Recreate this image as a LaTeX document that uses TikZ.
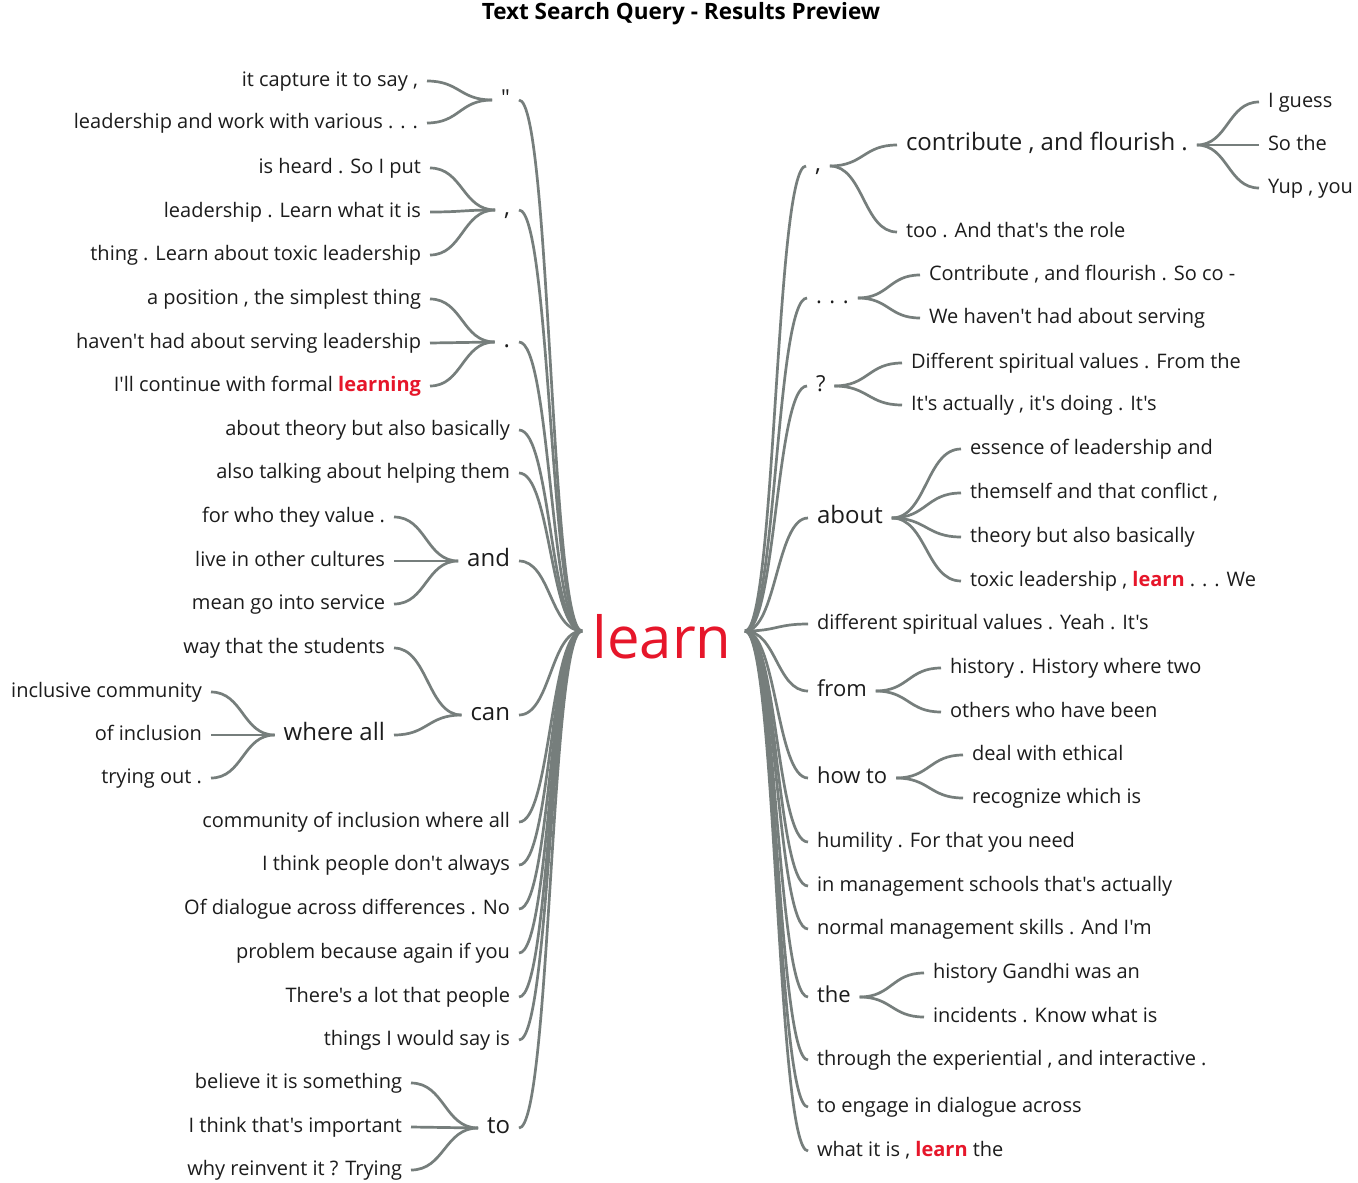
\documentclass[tikz,border=0pt]{standalone}
\usepackage{fontspec}
\newfontfamily\mf{Open Sans}
\usetikzlibrary{calc}
\definecolor{lkc}{RGB}{118,126,124}
\definecolor{lrc}{RGB}{230,22,42}
\definecolor{txc}{RGB}{28,28,28}
\tikzset{
 base/.style={inner sep=0pt, outer xsep=9pt, outer ysep=0pt, font=\mf\fontsize{20}{24}\selectfont, text=txc, text height=14.5pt, text depth=4pt},
 tl/.style={base, anchor=east},
 tr/.style={base, anchor=west},
 big/.style={font=\mf\fontsize{24}{28}\selectfont},
 mid/.style={font=\mf\fontsize{22}{26}\selectfont},
 link/.style={draw=lkc, line width=2.7pt},
}
\newcommand\hlr[1]{\textcolor{lrc}{\bfseries #1}}
\newcommand\lnk[2]{\draw[link] let \p1=(#1), \p2=(#2) in (\p1) .. controls ({(\x1+\x2)/2},\y1) and ({(\x1+\x2)/2},\y2) .. (\p2);}
\begin{document}
\begin{tikzpicture}[x=1pt,y=-1pt]
\fill[white] (0,0) rectangle (1358,1183);
\useasboundingbox (0,0) rectangle (1358,1183);
\node[font=\mf\bfseries\fontsize{22.5}{26}\selectfont, text=black] (title) at (681,14) {Text Search Query - Results Preview};
\node[font=\mf\fontsize{58}{66}\selectfont, text=lrc, anchor=base, inner sep=0pt] (learn) at (662,658) {learn};
\coordinate (LL) at (582,631);
\coordinate (LR) at (745,631);
% ---------- left ----------
\node[tl,mid] (q) at (519,100) {"};
\node[tl] (q1) at (427,81) {it capture it to say ,};
\node[tl] (q2) at (427,123) {leadership and work with various . . .};
\node[tl,big] (cm) at (519,210) {,};
\node[tl] (cm1) at (430,168) {is heard . So I put};
\node[tl] (cm2) at (430,212) {leadership . Learn what it is};
\node[tl] (cm3) at (430,255) {thing . Learn about toxic leadership};
\node[tl,big] (dt) at (519,342) {.};
\node[tl] (dt1) at (430,299) {a position , the simplest thing};
\node[tl] (dt2) at (430,343) {haven't had about serving leadership};
\node[tl] (dt3) at (430,386) {I'll continue with formal \hlr{learning}};
\node[tl] (l4) at (519,430) {about theory but also basically};
\node[tl] (l5) at (519,473) {also talking about helping them};
\node[tl,big] (and) at (519,561) {and};
\node[tl] (and1) at (394,517) {for who they value .};
\node[tl] (and2) at (394,561) {live in other cultures};
\node[tl] (and3) at (394,604) {mean go into service};
\node[tl,big] (can) at (519,715) {can};
\node[tl] (can1) at (394,648) {way that the students};
\node[tl,big] (wall) at (394,735) {where all};
\node[tl] (wa1) at (211,692) {inclusive community};
\node[tl] (wa2) at (211,735) {of inclusion};
\node[tl] (wa3) at (211,778) {trying out .};
\node[tl] (l8) at (519,822) {community of inclusion where all};
\node[tl] (l9) at (519,865) {I think people don't always};
\node[tl] (l10) at (519,909) {Of dialogue across differences . No};
\node[tl] (l11) at (519,953) {problem because again if you};
\node[tl] (l12) at (519,997) {There's a lot that people};
\node[tl] (l13) at (519,1040) {things I would say is};
\node[tl,big] (to) at (519,1128) {to};
\node[tl] (to1) at (411,1083) {believe it is something};
\node[tl] (to2) at (411,1127) {I think that's important};
\node[tl] (to3) at (411,1170) {why reinvent it ? Trying};
% ---------- right ----------
\node[tr,big] (rc) at (806,166) {,};
\node[tr,big] (con) at (897,145) {contribute , and flourish .};
\node[tr] (con1) at (1259,102) {I guess};
\node[tr] (con2) at (1259,145) {So the};
\node[tr] (con3) at (1259,188) {Yup , you};
\node[tr] (too) at (897,232) {too . And that's the role};
\node[tr,mid] (rd) at (807,298) {. . .};
\node[tr] (rd1) at (920,275) {Contribute , and flourish . So co -};
\node[tr] (rd2) at (920,318) {We haven't had about serving};
\node[tr,mid] (rq) at (807,386) {?};
\node[tr] (rq1) at (902,363) {Different spiritual values . From the};
\node[tr] (rq2) at (902,405) {It's actually , it's doing . It's};
\node[tr,big] (ab) at (808,518) {about};
\node[tr] (ab1) at (961,449) {essence of leadership and};
\node[tr] (ab2) at (961,493) {themself and that conflict ,};
\node[tr] (ab3) at (961,537) {theory but also basically};
\node[tr] (ab4) at (961,581) {toxic leadership , \hlr{learn} . . . We};
\node[tr] (r5) at (808,624) {different spiritual values . Yeah . It's};
\node[tr,mid] (fr) at (808,691) {from};
\node[tr] (fr1) at (941,668) {history . History where two};
\node[tr] (fr2) at (941,712) {others who have been};
\node[tr,mid] (ht) at (808,778) {how to};
\node[tr] (ht1) at (963,755) {deal with ethical};
\node[tr] (ht2) at (963,798) {recognize which is};
\node[tr] (r8) at (808,842) {humility . For that you need};
\node[tr] (r9) at (808,886) {in management schools that's actually};
\node[tr] (r10) at (808,929) {normal management skills . And I'm};
\node[tr,mid] (th) at (808,997) {the};
\node[tr] (th1) at (924,973) {history Gandhi was an};
\node[tr] (th2) at (924,1017) {incidents . Know what is};
\node[tr] (r12) at (808,1060) {through the experiential , and interactive .};
\node[tr] (r13) at (808,1107) {to engage in dialogue across};
\node[tr] (r14) at (808,1151) {what it is , \hlr{learn} the};
% ---------- links left ----------
\foreach \k in {q,cm,dt,l4,l5,and,can,l8,l9,l10,l11,l12,l13,to} {\lnk{LL}{\k.east}}
\foreach \k in {q1,q2} {\lnk{q.west}{\k.east}}
\foreach \k in {cm1,cm2,cm3} {\lnk{cm.west}{\k.east}}
\foreach \k in {dt1,dt2,dt3} {\lnk{dt.west}{\k.east}}
\foreach \k in {and1,and2,and3} {\lnk{and.west}{\k.east}}
\foreach \k in {can1,wall} {\lnk{can.west}{\k.east}}
\foreach \k in {wa1,wa2,wa3} {\lnk{wall.west}{\k.east}}
\foreach \k in {to1,to2,to3} {\lnk{to.west}{\k.east}}
% ---------- links right ----------
\foreach \k in {rc,rd,rq,ab,r5,fr,ht,r8,r9,r10,th,r12,r13,r14} {\lnk{LR}{\k.west}}
\foreach \k in {con,too} {\lnk{rc.east}{\k.west}}
\foreach \k in {con1,con2,con3} {\lnk{con.east}{\k.west}}
\foreach \k in {rd1,rd2} {\lnk{rd.east}{\k.west}}
\foreach \k in {rq1,rq2} {\lnk{rq.east}{\k.west}}
\foreach \k in {ab1,ab2,ab3,ab4} {\lnk{ab.east}{\k.west}}
\foreach \k in {fr1,fr2} {\lnk{fr.east}{\k.west}}
\foreach \k in {ht1,ht2} {\lnk{ht.east}{\k.west}}
\foreach \k in {th1,th2} {\lnk{th.east}{\k.west}}
\end{tikzpicture}
\end{document}
